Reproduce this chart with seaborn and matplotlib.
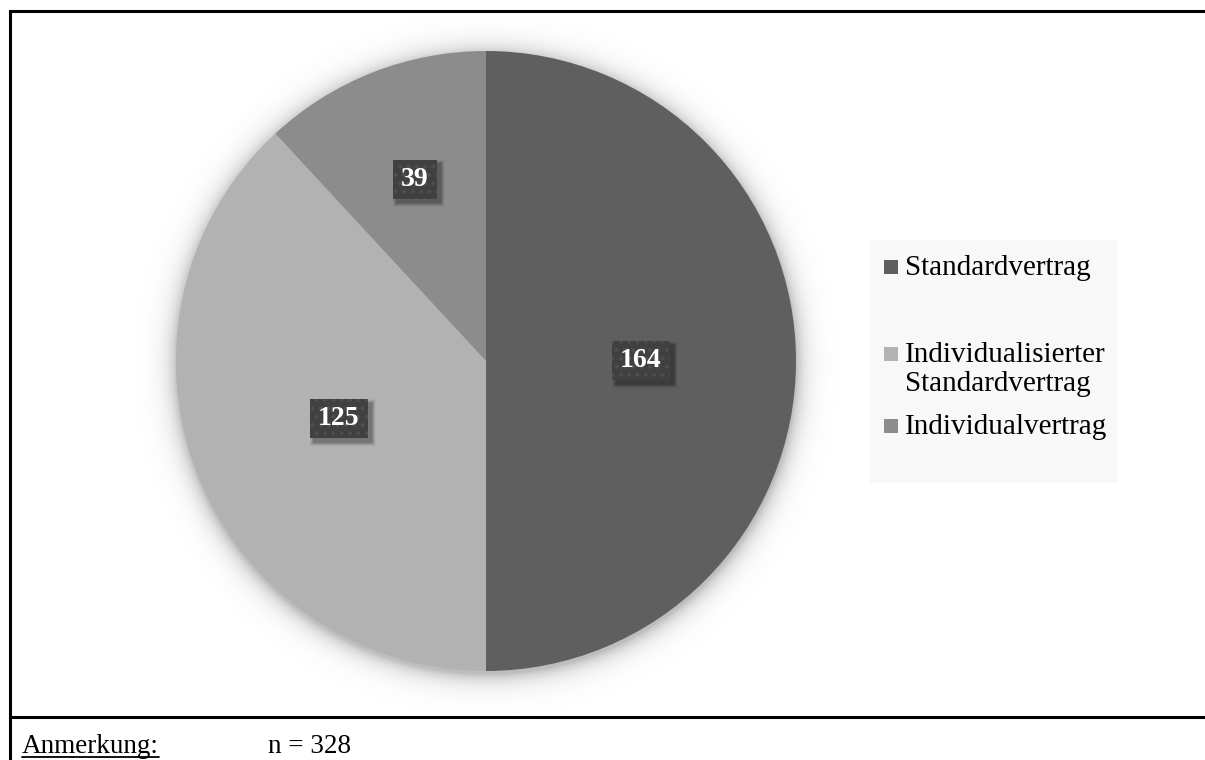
import numpy as np
import matplotlib
matplotlib.use("Agg")
import matplotlib.pyplot as plt
import matplotlib.transforms as mtransforms
from matplotlib.patches import Rectangle
from matplotlib.lines import Line2D
import seaborn as sns

# Vertragsarten und Anzahl der Nennungen
categories = ["Standardvertrag", "Individualisierter\nStandardvertrag", "Individualvertrag"]
counts = [164, 125, 39]
colors = ["#5f5f5f", "#b2b2b2", "#8c8c8c"]
note_label = "Anmerkung:"
note_text = "n = 328"

sns.set_theme(style="white")
plt.rcParams["font.family"] = ["Liberation Serif", "DejaVu Serif"]
plt.rcParams["hatch.linewidth"] = 1.6

W, H = 1205, 760
fig = plt.figure(figsize=(W / 100, H / 100), dpi=100)
fig.patch.set_facecolor("white")

# pie axes: centre (486, 361) px, radius 310 px
cx, cy, R = 486, 361, 310
L = 1.15
half = R * L
ax = fig.add_axes([(cx - half) / W, (H - cy - half) / H, 2 * half / W, 2 * half / H])
ax.set_aspect("equal")
ax.axis("off")

# soft drop shadow around the pie
g = np.linspace(-L, L, 700)
xx, yy = np.meshgrid(g, g)
rr = np.sqrt(xx ** 2 + (yy + 0.012) ** 2)
alpha = np.where(rr > 1, 0.26 * np.exp(-(rr - 1) / 0.032), 0.26)
shadow = np.zeros((700, 700, 4))
shadow[..., 3] = alpha
ax.imshow(shadow, extent=(-L, L, -L, L), origin="lower", zorder=0, interpolation="bilinear")

wedges, _ = ax.pie(counts, colors=sns.color_palette(colors), startangle=90, counterclock=False,
                   radius=1.0, wedgeprops=dict(linewidth=0), frame=False)
for w in wedges:
    w.set_zorder(2)
ax.set_xlim(-L, L)
ax.set_ylim(-L, L)

# value labels
label_r = [0.50, 0.51, 0.63]
value_texts = []
for w, v, r in zip(wedges, counts, label_r):
    mid = np.deg2rad((w.theta1 + w.theta2) / 2)
    x, y = r * np.cos(mid), r * np.sin(mid)
    t = ax.text(x, y, str(v), ha="center", va="center", fontsize=20, fontweight="bold",
                color="white", zorder=6)
    value_texts.append(t)

fig.canvas.draw()
renderer = fig.canvas.get_renderer()
ident = mtransforms.IdentityTransform()

# dark dotted boxes with a soft shadow behind the value labels
padx, box_h = 8, 39
for t in value_texts:
    bb = t.get_window_extent(renderer)
    ycen = (bb.y0 + bb.y1) / 2
    x0, y0 = bb.x0 - padx, ycen - box_h / 2
    bw, bh = bb.width + 2 * padx, box_h
    for k, a in zip(range(8, 0, -1), [0.025, 0.03, 0.035, 0.04, 0.05, 0.06, 0.07, 0.08]):
        ax.add_artist(Rectangle((x0 + 4 - k / 2, y0 - 4 - k / 2), bw + k, bh + k, transform=ident,
                                facecolor=(0, 0, 0, a), edgecolor="none", zorder=3, clip_on=False))
    ax.add_artist(Rectangle((x0, y0), bw, bh, transform=ident, facecolor="#404040",
                            edgecolor="none", zorder=4, clip_on=False))
    ax.add_artist(Rectangle((x0, y0), bw, bh, transform=ident, facecolor="none",
                            edgecolor="#4e4e4e", linewidth=0, hatch="..", zorder=5, clip_on=False))

# legend panel
fig.patches.append(Rectangle((870 / W, 1 - 483 / H), 248 / W, 243 / H, transform=fig.transFigure,
                             facecolor="#f8f8f8", edgecolor="none", zorder=1))
legend_baseline = [275, 362, 434]
line_gap = 29
for lab, col, base in zip(categories, colors, legend_baseline):
    fig.patches.append(Rectangle((884 / W, 1 - (base - 1) / H), 14 / W, 14 / H,
                                 transform=fig.transFigure, facecolor=col, edgecolor="none", zorder=2))
    for i, line in enumerate(lab.split("\n")):
        fig.text(905 / W, 1 - (base + i * line_gap) / H, line, ha="left", va="baseline",
                 fontsize=21, color="black", zorder=3)

# frame lines
frame_kw = dict(transform=fig.transFigure, color="black", linewidth=2.2, solid_capstyle="projecting")
fig.lines.append(Line2D([9.5 / W, 9.5 / W], [1 - 11 / H, 0], **frame_kw))
fig.lines.append(Line2D([9.5 / W, 1], [1 - 11 / H, 1 - 11 / H], **frame_kw))
fig.lines.append(Line2D([9.5 / W, 1], [1 - 717 / H, 1 - 717 / H], **frame_kw))

# footnote
t1 = fig.text(22 / W, 1 - 753 / H, note_label, ha="left", va="baseline", fontsize=19.5, color="black")
fig.text(268 / W, 1 - 753 / H, note_text, ha="left", va="baseline", fontsize=19.5, color="black")
fig.canvas.draw()
bb = t1.get_window_extent()
fig.lines.append(Line2D([bb.x0 / W, bb.x1 / W], [(H - 757) / H, (H - 757) / H],
                        transform=fig.transFigure, color="black", linewidth=1.3))

fig.savefig("out.png", dpi=100, facecolor="white")
